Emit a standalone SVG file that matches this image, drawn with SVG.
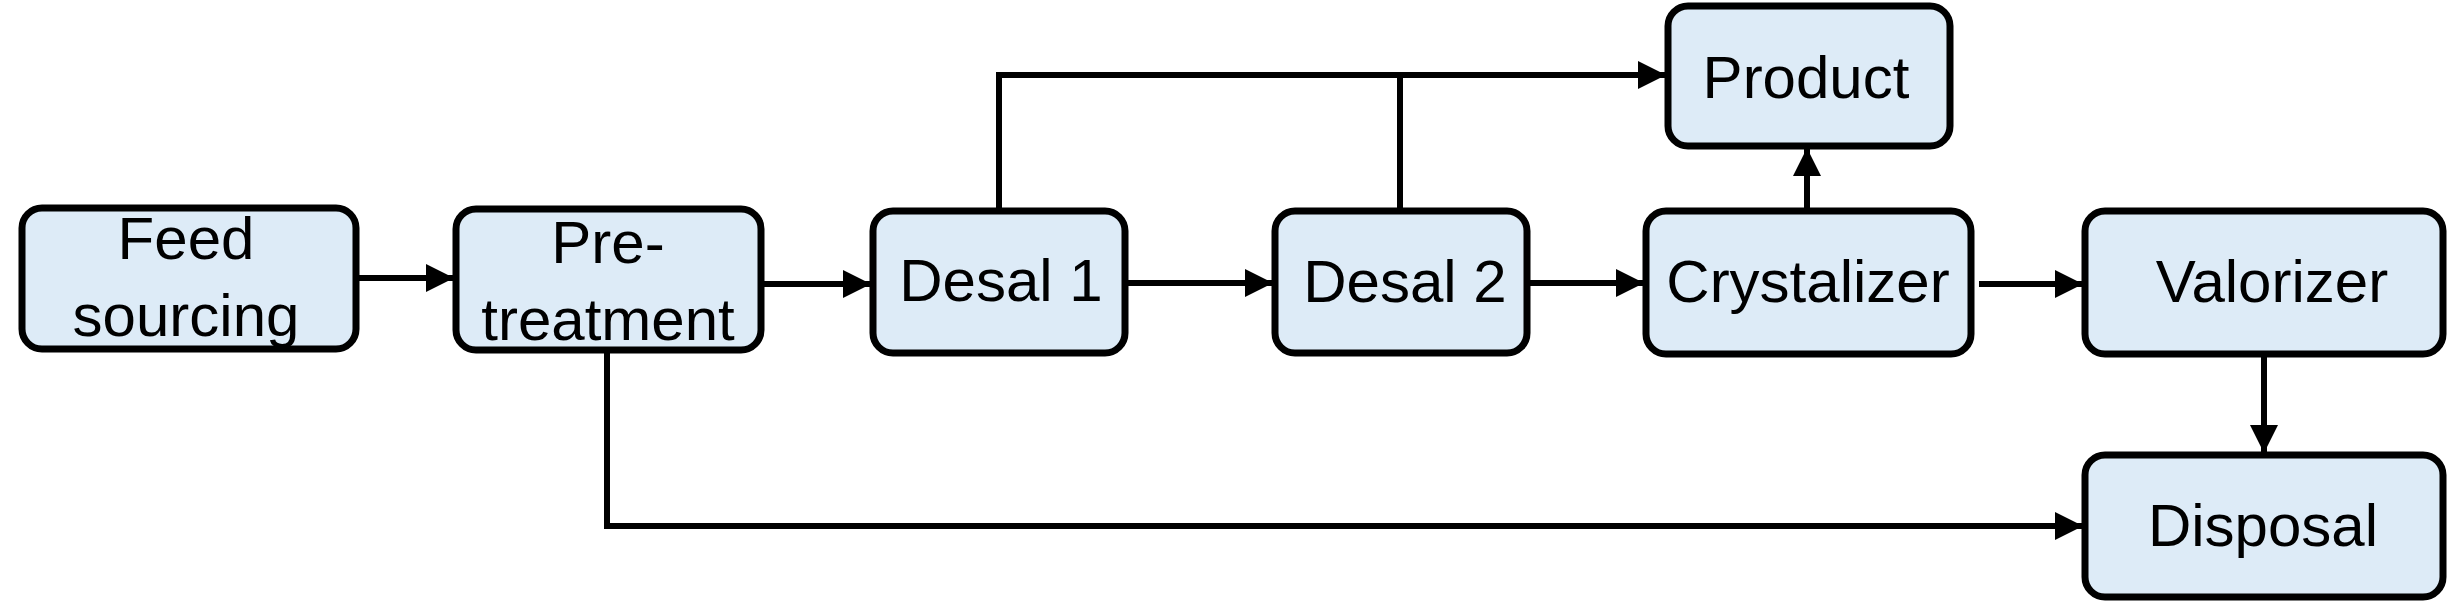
<svg xmlns="http://www.w3.org/2000/svg" width="2449" height="602" viewBox="0 0 2449 602">
<style>
.box{fill:#DDEBF7;stroke:#000;stroke-width:7}
.lbl{font-family:"Liberation Sans",Arial,sans-serif;font-size:60px;fill:#000;text-anchor:middle}
.con{fill:none;stroke:#000;stroke-width:6;stroke-linejoin:miter}
</style>
<defs>
<marker id="arr" markerUnits="userSpaceOnUse" markerWidth="28" markerHeight="28" refX="27" refY="14" orient="auto" viewBox="0 0 28 28">
<path d="M0,0 L28,14 L0,28 z" fill="#000"/>
</marker>
</defs>
<rect width="2449" height="602" fill="#fff"/>
<g id="connectors">
<line class="con" x1="359" y1="278" x2="453" y2="278" marker-end="url(#arr)"/>
<line class="con" x1="764" y1="284" x2="870" y2="284" marker-end="url(#arr)"/>
<line class="con" x1="1128" y1="283" x2="1272" y2="283" marker-end="url(#arr)"/>
<line class="con" x1="1530" y1="283" x2="1643" y2="283" marker-end="url(#arr)"/>
<line class="con" x1="1979" y1="284" x2="2082" y2="284" marker-end="url(#arr)"/>
<line class="con" x1="1807" y1="208" x2="1807" y2="149" marker-end="url(#arr)"/>
<line class="con" x1="2264" y1="357" x2="2264" y2="452" marker-end="url(#arr)"/>
<polyline class="con" points="999,208 999,75 1665,75" marker-end="url(#arr)"/>
<line class="con" x1="1400" y1="208" x2="1400" y2="75"/>
<polyline class="con" points="607,353 607,526 2082,526" marker-end="url(#arr)"/>
</g>
<g id="feed"><rect class="box" x="22" y="208" width="334" height="141" rx="20"/><text class="lbl" x="186" y="259">Feed</text><text class="lbl" x="186" y="336">sourcing</text></g>
<g id="pretreatment"><rect class="box" x="456" y="209" width="305" height="141" rx="20"/><text class="lbl" x="608" y="263">Pre-</text><text class="lbl" x="608" y="340">treatment</text></g>
<g id="desal1"><rect class="box" x="873" y="211" width="252" height="142" rx="20"/><text class="lbl" x="1001" y="301">Desal 1</text></g>
<g id="desal2"><rect class="box" x="1275" y="211" width="252" height="142" rx="20"/><text class="lbl" x="1405" y="302">Desal 2</text></g>
<g id="crystalizer"><rect class="box" x="1646" y="211" width="325" height="143" rx="20"/><text class="lbl" x="1808" y="302">Crystalizer</text></g>
<g id="valorizer"><rect class="box" x="2085" y="211" width="358" height="143" rx="20"/><text class="lbl" x="2272" y="302">Valorizer</text></g>
<g id="product"><rect class="box" x="1668" y="6" width="282" height="140" rx="20"/><text class="lbl" x="1806" y="98">Product</text></g>
<g id="disposal"><rect class="box" x="2085" y="455" width="358" height="142" rx="20"/><text class="lbl" x="2263" y="546">Disposal</text></g>
</svg>
